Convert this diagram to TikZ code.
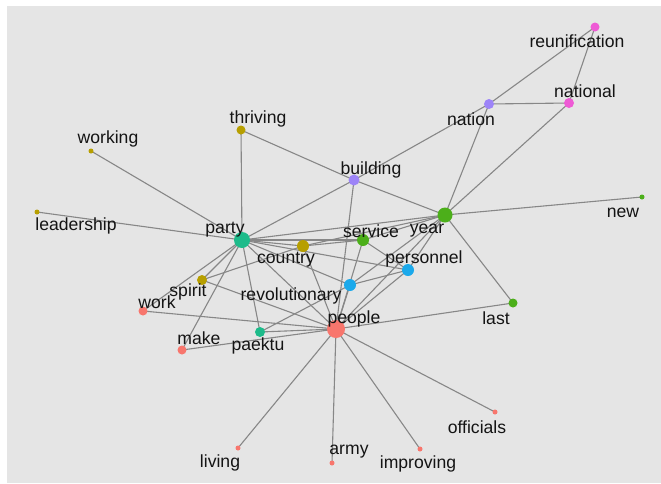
\documentclass[tikz,border=0pt]{standalone}
\usepackage{fontspec}
\setmainfont{Liberation Sans}
\definecolor{panel}{HTML}{E5E5E5}
\definecolor{edgegray}{HTML}{878787}
\definecolor{txt}{HTML}{141414}
\definecolor{cred}{HTML}{F8766D}
\definecolor{cgold}{HTML}{B79F00}
\definecolor{cgreen}{HTML}{4CAF1A}
\definecolor{cteal}{HTML}{1DBB8A}
\definecolor{cblue}{HTML}{1BA9EB}
\definecolor{cpurple}{HTML}{9D84F8}
\definecolor{cpink}{HTML}{EE5BD5}
\begin{document}
\begin{tikzpicture}[x=1pt,y=-1pt,
  vtx/.style={circle,inner sep=0pt,minimum size=#1,draw=none},
  word/.style={inner sep=0pt,text=txt,font=\fontsize{17.6}{18}\selectfont},
  link/.style={draw=edgegray,line width=1.1pt}]
\useasboundingbox (0,0) rectangle (661,483);
\fill[white] (0,0) rectangle (661,483);
\fill[panel] (7,6) rectangle (661,483);

% vertex positions (filled after the connectors)
\node[vtx=9pt]  (reunification) at (595,27) {};
\node[vtx=10pt] (national) at (569,103) {};
\node[vtx=10pt] (nation) at (489,104) {};
\node[vtx=9pt]  (thriving) at (241,130) {};
\node[vtx=5pt]  (working) at (91,151) {};
\node[vtx=11pt] (building) at (354,180) {};
\node[vtx=5pt]  (leadership) at (37,212) {};
\node[vtx=5pt]  (new) at (642,197) {};
\node[vtx=15pt] (year) at (445,215) {};
\node[vtx=16pt] (party) at (242,240) {};
\node[vtx=12pt] (country) at (303,246) {};
\node[vtx=12pt] (service) at (363,240) {};
\node[vtx=12pt] (personnel) at (408,270) {};
\node[vtx=12pt] (revolutionary) at (350,285) {};
\node[vtx=10pt] (spirit) at (202,280) {};
\node[vtx=9pt]  (work) at (143,311) {};
\node[vtx=9pt]  (last) at (513,303) {};
\node[vtx=18pt] (people) at (336,329) {};
\node[vtx=10pt] (paektu) at (260,332) {};
\node[vtx=9pt]  (make) at (182,350) {};
\node[vtx=5pt]  (officials) at (495,412) {};
\node[vtx=5pt]  (improving) at (420,449) {};
\node[vtx=5pt]  (living) at (238,448) {};
\node[vtx=5pt]  (army) at (332,463) {};

% connectors
\foreach \a/\b in {
  reunification/nation, reunification/national, nation/national,
  nation/building, nation/year, national/year,
  thriving/party, thriving/building, building/year, building/party,
  building/people, working/party, leadership/party, new/year,
  year/party, year/country, year/service, year/people, year/revolutionary,
  year/personnel, year/last,
  party/service, party/country, party/personnel, party/revolutionary,
  party/people, party/spirit, party/work, party/make, party/paektu,
  country/people, country/spirit, country/service,
  service/people, service/personnel,
  personnel/revolutionary, personnel/people,
  revolutionary/people, revolutionary/paektu,
  spirit/people, work/people, make/people, paektu/people,
  last/people, people/officials, people/improving, people/living, people/army}
  \draw[link] (\a.center) -- (\b.center);

% vertex discs
\foreach \n/\c/\s in {reunification/cpink/9, national/cpink/10, nation/cpurple/10,
  thriving/cgold/9, working/cgold/5, building/cpurple/11, leadership/cgold/5,
  new/cgreen/5, year/cgreen/15, party/cteal/16, country/cgold/12,
  service/cgreen/12, personnel/cblue/12, revolutionary/cblue/12,
  spirit/cgold/10, work/cred/9, last/cgreen/9, people/cred/18,
  paektu/cteal/10, make/cred/9, officials/cred/5, improving/cred/5,
  living/cred/5, army/cred/5}
  \fill[\c] (\n.center) circle[radius=\s/2];

% labels
\node[word] (t-reunification) at (577,41) {reunification};
\node[word] (t-national) at (585,91) {national};
\node[word] (t-nation) at (471,119) {nation};
\node[word] (t-thriving) at (258,119) {thriving};
\node[word] (t-working) at (108,139) {working};
\node[word] (t-building) at (371,170) {building};
\node[word] (t-leadership) at (76,226) {leadership};
\node[word] (t-new) at (623,213) {new};
\node[word] (t-year) at (427,231) {year};
\node[word] (t-party) at (225,230) {party};
\node[word] (t-country) at (286,260) {country};
\node[word] (t-service) at (371,231) {service};
\node[word] (t-personnel) at (424,259) {personnel};
\node[word] (t-revolutionary) at (291,296) {revolutionary};
\node[word] (t-spirit) at (188,292) {spirit};
\node[word] (t-work) at (157,302) {work};
\node[word] (t-last) at (496,318) {last};
\node[word] (t-people) at (354,319) {people};
\node[word] (t-paektu) at (258,346) {paektu};
\node[word] (t-make) at (199,338) {make};
\node[word] (t-officials) at (477,427) {officials};
\node[word] (t-improving) at (418,464) {improving};
\node[word] (t-living) at (220,463) {living};
\node[word] (t-army) at (349,452) {army};
\end{tikzpicture}
\end{document}
